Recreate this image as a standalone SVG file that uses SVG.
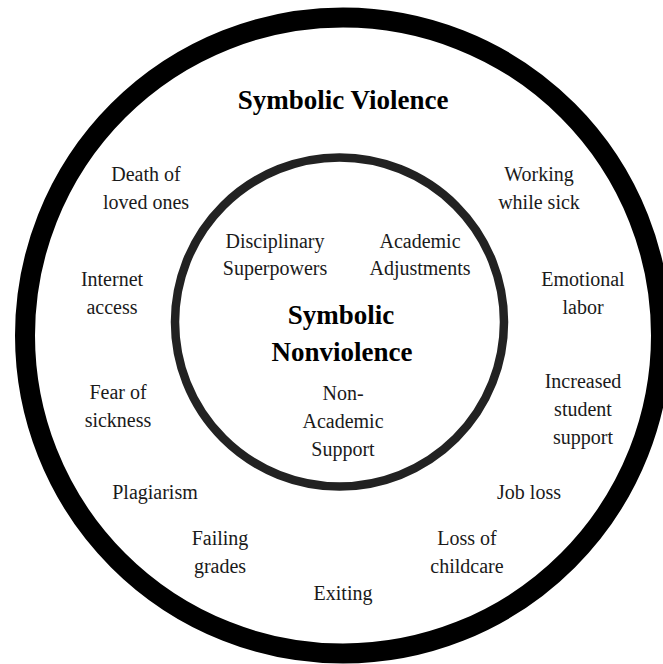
<svg xmlns="http://www.w3.org/2000/svg" width="663" height="664" viewBox="0 0 663 664" font-family="Liberation Serif, serif">
<style>
text{fill:#1a1a1a;text-anchor:middle}
.t{font-size:20px}
.h{font-size:27px;font-weight:bold;fill:#000}
</style>
<rect width="663" height="664" fill="#fff"/>
<g id="outer-ring">
<circle cx="343" cy="335.5" r="318" fill="none" stroke="#000" stroke-width="20"/>
<text class="h" x="343" y="109">Symbolic Violence</text>
</g>
<g id="inner-ring">
<circle cx="339.5" cy="322" r="164.5" fill="none" stroke="#222" stroke-width="8.5"/>
<text class="h" x="341" y="324">Symbolic</text>
<text class="h" x="342" y="361">Nonviolence</text>
</g>
<g id="death"><text class="t" x="146" y="181">Death of</text><text class="t" x="146" y="209">loved ones</text></g>
<g id="working"><text class="t" x="539" y="181">Working</text><text class="t" x="539" y="209">while sick</text></g>
<g id="disciplinary"><text class="t" x="275" y="248">Disciplinary</text><text class="t" x="275" y="275">Superpowers</text></g>
<g id="academic-adj"><text class="t" x="420" y="248">Academic</text><text class="t" x="420" y="275">Adjustments</text></g>
<g id="internet"><text class="t" x="112" y="286">Internet</text><text class="t" x="112" y="314">access</text></g>
<g id="emotional"><text class="t" x="583" y="286">Emotional</text><text class="t" x="583" y="314">labor</text></g>
<g id="non-academic"><text class="t" x="343" y="400">Non-</text><text class="t" x="343" y="428">Academic</text><text class="t" x="343" y="456">Support</text></g>
<g id="increased"><text class="t" x="583" y="388">Increased</text><text class="t" x="583" y="416">student</text><text class="t" x="583" y="444">support</text></g>
<g id="fear"><text class="t" x="118" y="399">Fear of</text><text class="t" x="118" y="427">sickness</text></g>
<g id="plagiarism"><text class="t" x="155" y="499">Plagiarism</text></g>
<g id="jobloss"><text class="t" x="529" y="499">Job loss</text></g>
<g id="failing"><text class="t" x="220" y="545">Failing</text><text class="t" x="220" y="573">grades</text></g>
<g id="childcare"><text class="t" x="467" y="545">Loss of</text><text class="t" x="467" y="573">childcare</text></g>
<g id="exiting"><text class="t" x="343" y="600">Exiting</text></g>
<g id="connectors"/>
</svg>
